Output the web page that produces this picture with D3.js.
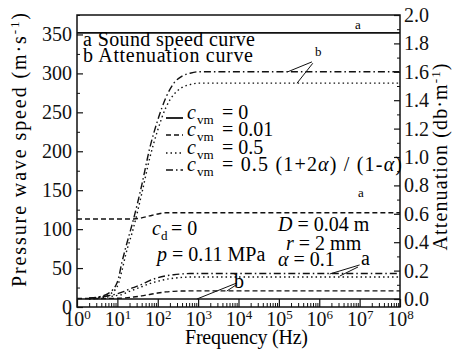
<!DOCTYPE html>
<html>
<head>
<meta charset="utf-8">
<script src="https://cdn.jsdelivr.net/npm/d3@7"></script>
<style>
  body { margin: 0; background: #fff; }
</style>
</head>
<body>
<svg id="chart" width="454" height="358" font-family="Liberation Serif"></svg>
<script>
// frequency grid (Hz), shared by all curves
const freqs = [1, 2, 3, 6, 10, 13, 16, 25, 40, 63, 100, 160, 250, 400, 630, 1e3, 1e4, 1e5, 1e6, 1e7, 1e8];

// sound speed curves (a), m/s
const speedCvm0   = [352, 352, 352, 352, 352, 352, 352, 352, 352, 352, 352, 352, 352, 352, 352, 352, 352, 352, 352, 352, 352];
const speedCvm001 = [113, 113, 113, 113, 113, 113, 113, 113, 114.5, 117, 119.5, 121, 121, 121, 121, 121, 121, 121, 121, 121, 121];
const speedCvm05  = [null, 10, 11, 13, 15, 16, 18, 22, 26, 30, 33, 35.5, 37, 38, 38.5, 38.5, 38.5, 38.5, 38.5, 38.5, 38.5];
const speedCvmA   = [null, 11, 12, 14.5, 17, 19, 21, 25, 29, 34, 37.5, 40, 41.5, 42.5, 43, 43, 43, 43, 43, 43, 43];

// attenuation curves (b), db/m
const attCvm0   = [0, 0, 0, 0, 0, 0, 0, 0, 0, 0, 0, 0, 0, 0, 0, 0, 0, 0, 0, 0, 0];
const attCvm001 = [0.003, 0.003, 0.003, 0.004, 0.005, 0.006, 0.008, 0.014, 0.022, 0.032, 0.042, 0.05, 0.054, 0.056, 0.057, 0.057, 0.057, 0.057, 0.057, 0.057, 0.057];
const attCvm05  = [null, 0.005, 0.01, 0.03, 0.09, 0.2, 0.31, 0.5, 0.74, 0.99, 1.19, 1.35, 1.44, 1.49, 1.51, 1.52, 1.52, 1.52, 1.52, 1.52, 1.52];
const attCvmA   = [null, 0.007, 0.012, 0.04, 0.12, 0.26, 0.36, 0.56, 0.8, 1.06, 1.26, 1.42, 1.52, 1.57, 1.59, 1.6, 1.6, 1.6, 1.6, 1.6, 1.6];

const xTicks = [1e0, 1e1, 1e2, 1e3, 1e4, 1e5, 1e6, 1e7, 1e8];
const leftTicks = [0, 50, 100, 150, 200, 250, 300, 350];
const rightTicks = [0, 0.2, 0.4, 0.6, 0.8, 1.0, 1.2, 1.4, 1.6, 1.8, 2.0];

const legendLabels = ["= 0", "= 0.01", "= 0.5", "= 0.5 (1+2\u03b1) / (1-\u03b1)"];
const dashes = ["none", "5,3", "1.5,3", "7,3,1.5,3"];

const svg = d3.select("#chart");
const L = 77, R = 400, T = 15, B = 307;

const x = d3.scaleLog().domain([1, 1e8]).range([L, R]);
const yL = d3.scaleLinear().domain([0, 375]).range([B, T]);
const yR = d3.scaleLinear().domain([0, 2]).range([299, T]);

const fontSize = 20;

function txt(xp, yp, size) {
  return svg.append("text").attr("x", xp).attr("y", yp)
    .attr("font-family", "Liberation Serif").attr("font-size", size || fontSize);
}

// curves
function drawCurve(vals, scale, dash) {
  const pts = freqs.map((f, i) => [f, vals[i]]);
  const line = d3.line()
    .defined(d => d[1] != null)
    .x(d => x(d[0]))
    .y(d => scale(d[1]))
    .curve(d3.curveMonotoneX);
  svg.append("path")
    .datum(pts)
    .attr("d", line)
    .attr("fill", "none")
    .attr("stroke", "#111")
    .attr("stroke-width", dash === "none" ? 1.6 : 1.4)
    .attr("stroke-dasharray", dash === "none" ? null : dash);
}

[speedCvm0, speedCvm001, speedCvm05, speedCvmA].forEach((s, i) => drawCurve(s, yL, dashes[i]));
[attCvm0, attCvm001, attCvm05, attCvmA].forEach((s, i) => drawCurve(s, yR, dashes[i]));

// frame
svg.append("rect")
  .attr("x", L).attr("y", T)
  .attr("width", R - L).attr("height", B - T)
  .attr("fill", "none").attr("stroke", "#111").attr("stroke-width", 1.5);

function styleAxis(g) {
  g.attr("font-family", "Liberation Serif").attr("font-size", fontSize);
  g.select(".domain").remove();
  g.selectAll(".tick line").attr("stroke", "#111").attr("stroke-width", 1.2);
  g.selectAll("text").attr("fill", "#111");
}
function minorOnly(g) {
  g.select(".domain").remove();
  g.selectAll(".tick text").remove();
  g.selectAll(".tick line").attr("stroke", "#111").attr("stroke-width", 1);
}

// bottom axis
const minorX = [];
for (let k = 0; k < 8; k++) for (let m = 2; m < 10; m++) minorX.push(m * Math.pow(10, k));

svg.append("g").attr("transform", `translate(0,${B})`)
  .call(d3.axisBottom(x).tickValues(minorX).tickSizeInner(-4).tickSizeOuter(0))
  .call(minorOnly);

const gx = svg.append("g").attr("transform", `translate(0,${B})`)
  .call(d3.axisBottom(x).tickValues(xTicks).tickSizeInner(-8).tickSizeOuter(0).tickPadding(5).tickFormat(""))
  .call(styleAxis);
gx.selectAll(".tick text").each(function(d) {
  const t = d3.select(this);
  t.append("tspan").text("10");
  t.append("tspan").attr("dy", -7).attr("font-size", 13).text(Math.round(Math.log10(d)));
});

// left axis
svg.append("g").attr("transform", `translate(${L},0)`)
  .call(d3.axisLeft(yL).tickValues(d3.range(25, 376, 50)).tickSizeInner(-3).tickSizeOuter(0))
  .call(minorOnly);
svg.append("g").attr("transform", `translate(${L},0)`)
  .call(d3.axisLeft(yL).tickValues(leftTicks).tickSizeInner(-6).tickSizeOuter(0).tickPadding(5))
  .call(styleAxis);

// right axis
svg.append("g").attr("transform", `translate(${R},0)`)
  .call(d3.axisRight(yR).tickValues(d3.range(0.1, 2, 0.2)).tickSizeInner(-3).tickSizeOuter(0))
  .call(minorOnly);
svg.append("g").attr("transform", `translate(${R},0)`)
  .call(d3.axisRight(yR).tickValues(rightTicks).tickSizeInner(-6).tickSizeOuter(0).tickPadding(4).tickFormat(d3.format(".1f")))
  .call(styleAxis);

// axis titles
txt((185 + 308) / 2, 344)
  .attr("text-anchor", "middle")
  .attr("textLength", 123).attr("lengthAdjust", "spacing")
  .text("Frequency (Hz)");

const lt = txt(0, 0)
  .attr("transform", "translate(26,150) rotate(-90)")
  .attr("text-anchor", "middle")
  .attr("textLength", 274).attr("lengthAdjust", "spacing");
lt.append("tspan").text("Pressure wave speed (m\u00b7s");
lt.append("tspan").attr("dy", -7).attr("font-size", 13).text("-1");
lt.append("tspan").attr("dy", 7).text(")");

const rt = txt(0, 0)
  .attr("transform", "translate(447,157) rotate(-90)")
  .attr("text-anchor", "middle")
  .attr("textLength", 187).attr("lengthAdjust", "spacing");
rt.append("tspan").text("Attenuation (db\u00b7m");
rt.append("tspan").attr("dy", -7).attr("font-size", 13).text("-1");
rt.append("tspan").attr("dy", 7).text(")");

// curve type notes
txt(83, 46).attr("textLength", 172).attr("lengthAdjust", "spacing").text("a Sound speed curve");
txt(83, 62).attr("textLength", 170).attr("lengthAdjust", "spacing").text("b Attenuation curve");

// legend
const legY = [118, 135, 153, 170];
legendLabels.forEach((lab, i) => {
  const yy = legY[i];
  svg.append("line")
    .attr("x1", 166).attr("x2", 183).attr("y1", yy).attr("y2", yy)
    .attr("stroke", "#111").attr("stroke-width", i === 0 ? 1.8 : 1.4)
    .attr("stroke-dasharray", dashes[i] === "none" ? null : dashes[i]);
  txt(187, yy + 1).attr("font-style", "italic").text("c");
  txt(197, yy + 6, 13).text("vm");
  const t = txt(222, yy + 1);
  if (i < 3) {
    t.text(lab);
  } else {
    t.attr("textLength", 180).attr("lengthAdjust", "spacing");
    t.append("tspan").text("= 0.5 (1+2");
    t.append("tspan").attr("font-style", "italic").text("\u03b1");
    t.append("tspan").text(") / (1-");
    t.append("tspan").attr("font-style", "italic").text("\u03b1");
    t.append("tspan").text(")");
  }
});

// parameter notes
function param(xp, yp, sym, rest) {
  const t = txt(xp, yp);
  t.append("tspan").attr("font-style", "italic").text(sym);
  t.append("tspan").text(rest);
  return t;
}
txt(152, 235).attr("font-style", "italic").text("c");
txt(161, 240, 13).text("d");
txt(171, 235).text("= 0");
param(157, 261, "p", " = 0.11 MPa");
param(278, 231, "D", " = 0.04 m");
param(286, 250, "r", " = 2 mm");
param(278, 266, "\u03b1", " = 0.1");

// curve labels with leader lines (in data coordinates)
function leader(f1, v1, f2, v2, scale) {
  svg.append("line")
    .attr("x1", x(f1)).attr("y1", scale(v1))
    .attr("x2", x(f2)).attr("y2", scale(v2))
    .attr("stroke", "#111").attr("stroke-width", 1);
}
leader(Math.pow(10, 5.22), 1.6, Math.pow(10, 5.82), 1.67, yR);
leader(Math.pow(10, 5.45), 1.52, Math.pow(10, 5.84), 1.66, yR);
leader(Math.pow(10, 2.97), 0, Math.pow(10, 3.96), 0.113, yR);
leader(Math.pow(10, 3.71), 0.056, Math.pow(10, 3.94), 0.099, yR);
leader(Math.pow(10, 6.26), 42.4, Math.pow(10, 7.0), 54, yL);
leader(Math.pow(10, 6.51), 39.8, Math.pow(10, 6.96), 51.4, yL);

txt(315, 56, 13).text("b");
txt(355, 29, 13).text("a");
txt(358, 197, 13).text("a");
txt(361, 265).text("a");
txt(234, 288).text("b");
</script>
</body>
</html>
